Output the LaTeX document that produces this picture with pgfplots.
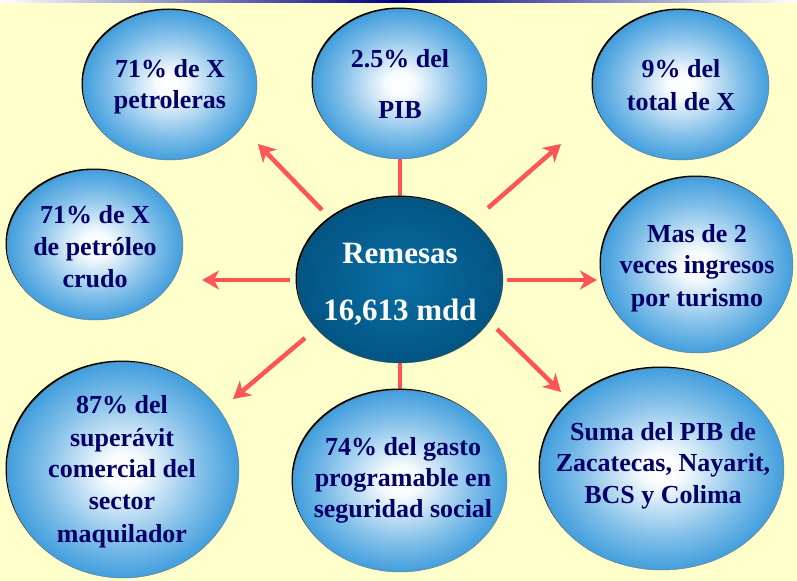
\documentclass[border=0pt]{standalone}
\usepackage{pgfplots}
\pgfplotsset{compat=1.18}
\usepackage{fontspec}
\setmainfont{Liberation Serif}
\usetikzlibrary{arrows.meta}
\definecolor{bg}{HTML}{FFFFCC}
\definecolor{ballblue}{HTML}{1A8AD6}
\definecolor{txt}{HTML}{000066}
\definecolor{arr}{HTML}{FF5555}
\definecolor{cdark}{HTML}{004A75}
\definecolor{clight}{HTML}{0A6FA5}
\definecolor{topnavy}{HTML}{000080}
\pgfdeclareradialshading{ball}{\pgfpoint{0bp}{0bp}}{color(0bp)=(white); color(4bp)=(white!97!ballblue); color(17bp)=(ballblue!55!white); color(30bp)=(ballblue); color(50bp)=(ballblue)}
\pgfdeclareradialshading{cball}{\pgfpoint{0bp}{0bp}}{color(0bp)=(clight); color(35bp)=(cdark); color(50bp)=(cdark)}
\newcommand\ball[4]{%
  \fill[black] (axis cs:#1-1.5,#2-1.5) ellipse [x radius=#3, y radius=#4];
  \shade[shading=ball, draw=black!55, line width=0.4bp] (axis cs:#1,#2) ellipse [x radius=#3, y radius=#4];}
\newcommand\tl[3]{\node[anchor=base, inner sep=0pt, text=txt, font=\fontsize{26bp}{30bp}\selectfont\bfseries] at (axis cs:#1,#2) {#3};}
\newcommand\wl[3]{\node[anchor=base, inner sep=0pt, text=white, font=\fontsize{31bp}{36bp}\selectfont\bfseries] at (axis cs:#1,#2) {#3};}
\begin{document}
\begin{tikzpicture}
\begin{axis}[
  width=797bp, height=581bp, scale only axis,
  xmin=0, xmax=797, ymin=0, ymax=581, y dir=reverse,
  hide axis, clip=true]
% background
\fill[bg] (axis cs:0,0) rectangle (axis cs:797,581);
\shade[left color=white, right color=white, middle color=topnavy] (axis cs:0,0) rectangle (axis cs:797,2.5);
% connector lines and arrows
\addplot[arr, line width=4.5bp] coordinates {(400,200) (400,150)};
\addplot[arr, line width=4.5bp] coordinates {(400,360) (400,400)};
\addplot[arr, line width=4.5bp, -{Stealth[length=17bp, width=19bp, inset=5bp]}] coordinates {(322,210) (258,144)};
\addplot[arr, line width=4.5bp, -{Stealth[length=17bp, width=19bp, inset=5bp]}] coordinates {(488,208) (561,144)};
\addplot[arr, line width=4.5bp, -{Stealth[length=17bp, width=19bp, inset=5bp]}] coordinates {(290,280) (202,280)};
\addplot[arr, line width=4.5bp, -{Stealth[length=17bp, width=19bp, inset=5bp]}] coordinates {(507,280) (597,280)};
\addplot[arr, line width=4.5bp, -{Stealth[length=17bp, width=19bp, inset=5bp]}] coordinates {(305,338) (233,399)};
\addplot[arr, line width=4.5bp, -{Stealth[length=17bp, width=19bp, inset=5bp]}] coordinates {(497,329) (561,392)};
% balls
\ball{170}{85}{87}{75}
\ball{400}{84}{87}{75}
\ball{681}{85}{88}{75}
\ball{95}{245}{88}{75}
\ball{697}{265}{96}{88}
\ball{123}{470}{116}{108}
\ball{400}{481}{107}{91}
\ball{662}{469}{122}{101}
% center
\fill[black] (axis cs:398.5,278.5) ellipse [x radius=103, y radius=83];
\shade[shading=cball, draw=black!70, line width=0.4bp] (axis cs:400,280) ellipse [x radius=103, y radius=83];
% texts
\tl{170}{78}{71\% de X}
\tl{170}{108}{petroleras}
\tl{400}{68}{2.5\% del}
\tl{400}{118}{PIB}
\tl{681}{78}{9\% del}
\tl{681}{110}{total de X}
\tl{95}{223}{71\% de X}
\tl{95}{255}{de petróleo}
\tl{95}{287}{crudo}
\tl{697}{242}{Mas de 2}
\tl{697}{273}{veces ingresos}
\tl{697}{306}{por turismo}
\tl{122}{413}{87\% del}
\tl{122}{446}{superávit}
\tl{122}{477}{comercial del}
\tl{122}{509}{sector}
\tl{122}{542}{maquilador}
\tl{403}{455}{74\% del gasto}
\tl{403}{486}{programable en}
\tl{403}{517}{seguridad social}
\tl{663}{440}{Suma del PIB de}
\tl{663}{471}{Zacatecas, Nayarit,}
\tl{663}{503}{BCS y Colima}
\wl{400}{263}{Remesas}
\wl{400}{320}{16,613 mdd}
\end{axis}
\end{tikzpicture}
\end{document}
